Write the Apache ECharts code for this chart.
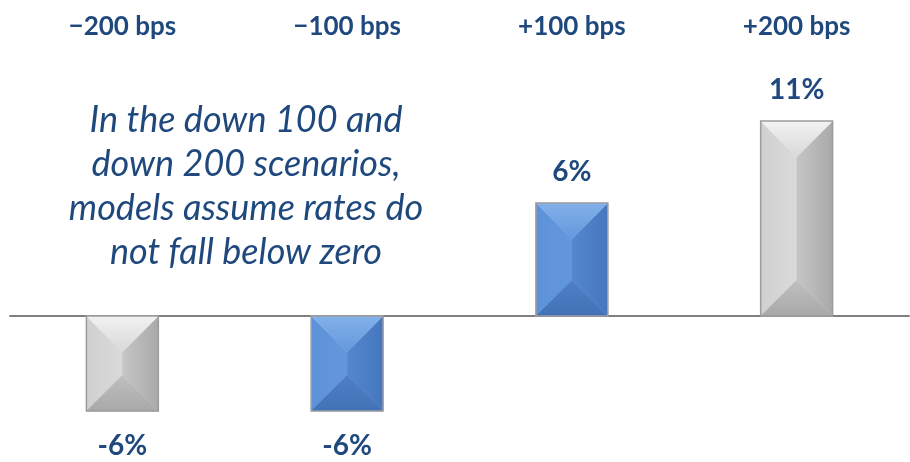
<!DOCTYPE html>
<html><head><meta charset="utf-8">
<script src="https://cdn.jsdelivr.net/npm/echarts@6/dist/echarts.min.js"></script>
<style>html,body{margin:0;padding:0;background:#fff}#c{width:910px;height:462px}</style>
</head><body><div id="c"></div>
<script>
const categories = ['\u2212200 bps', '\u2212100 bps', '+100 bps', '+200 bps'];
const values = [-5.0, -5.0, 5.95, 10.26];
const valueLabels = ['-6%', '-6%', '6%', '11%'];
const barStyles = ['gray', 'blue', 'blue', 'gray'];
const noteLines = ['In the down 100 and', 'down 200 scenarios,', 'models assume rates do', 'not fall below zero'];

const palettes = {
  gray: { top: ['#f2f2f2', '#d8d8d8'], left: ['#d0d0d0', '#dadada'], right: ['#c6c6c6', '#a9a9a9'], bottom: ['#c0c0c0', '#a8a8a8'], border: '#9c9c9c' },
  blue: { top: ['#82b1ea', '#6498dc'], left: ['#5d92da', '#6397dc'], right: ['#5487cf', '#4677be'], bottom: ['#4f80c6', '#4172b6'], border: '#a0a0a0' }
};
const textColor = '#1F497D';
const lg = (a, b, x2, y2) => new echarts.graphic.LinearGradient(0, 0, x2, y2, [{ offset: 0, color: a }, { offset: 1, color: b }]);

function renderItem(params, api) {
  const i = api.value(0);
  const v = api.value(1);
  const p0 = api.coord([i, 0]);
  const p1 = api.coord([i, v]);
  const bw = api.size([1, 0])[0] * 0.32;
  const x = p0[0] - bw / 2;
  const yT = Math.min(p0[1], p1[1]);
  const yB = Math.max(p0[1], p1[1]);
  const h = yB - yT;
  const b = Math.min(bw / 2, h / 2);
  const pal = palettes[barStyles[i]];
  const poly = (pts, fill) => ({ type: 'polygon', shape: { points: pts }, style: { fill: fill, stroke: fill, lineWidth: 0.5 } });
  const children = [
    poly([[x, yT], [x + b, yT + b], [x + b, yB - b], [x, yB]], lg(pal.left[0], pal.left[1], 1, 0)),
    poly([[x + bw, yT], [x + bw - b, yT + b], [x + bw - b, yB - b], [x + bw, yB]], lg(pal.right[0], pal.right[1], 1, 0)),
    poly([[x, yT], [x + bw, yT], [x + bw - b, yT + b], [x + b, yT + b]], lg(pal.top[0], pal.top[1], 0, 1)),
    poly([[x, yB], [x + bw, yB], [x + bw - b, yB - b], [x + b, yB - b]], lg(pal.bottom[0], pal.bottom[1], 0, 1)),
    { type: 'rect', shape: { x: x, y: yT, width: bw, height: h }, style: { fill: null, stroke: pal.border, lineWidth: 1.5 } }
  ];
  const above = v >= 0;
  children.push({
    type: 'text',
    style: {
      text: valueLabels[i], x: p0[0], y: above ? yT - 31 : yB + 35,
      align: 'center', verticalAlign: 'middle',
      font: 'bold 28px Lato', fill: textColor
    }
  });
  return { type: 'group', children: children };
}

const chart = echarts.init(document.getElementById('c'), null, { renderer: 'canvas' });
chart.setOption({
  animation: false,
  grid: { left: 10, right: 1, top: 50, height: 408.5 },
  xAxis: [
    { type: 'category', data: categories, position: 'top',
      axisLine: { show: false, onZero: false }, axisTick: { show: false },
      axisLabel: { margin: 10, color: textColor, fontFamily: 'Lato', fontWeight: 'bold', fontSize: 26 } },
    { type: 'category', data: categories, position: 'bottom',
      axisLine: { show: true, onZero: true, lineStyle: { color: '#808080', width: 2 } },
      axisTick: { show: false }, axisLabel: { show: false } }
  ],
  yAxis: { type: 'value', min: -7.5, max: 14, show: false, splitLine: { show: false } },
  graphic: [{
    type: 'text', x: 246, y: 98,
    style: {
      text: noteLines.join('\n'),
      align: 'center', verticalAlign: 'top',
      font: 'italic 36px Lato', lineHeight: 44, fill: textColor
    }
  }],
  series: [{
    type: 'custom', xAxisIndex: 0,
    data: values.map((v, i) => [i, v]),
    renderItem: renderItem
  }]
});
</script></body></html>
